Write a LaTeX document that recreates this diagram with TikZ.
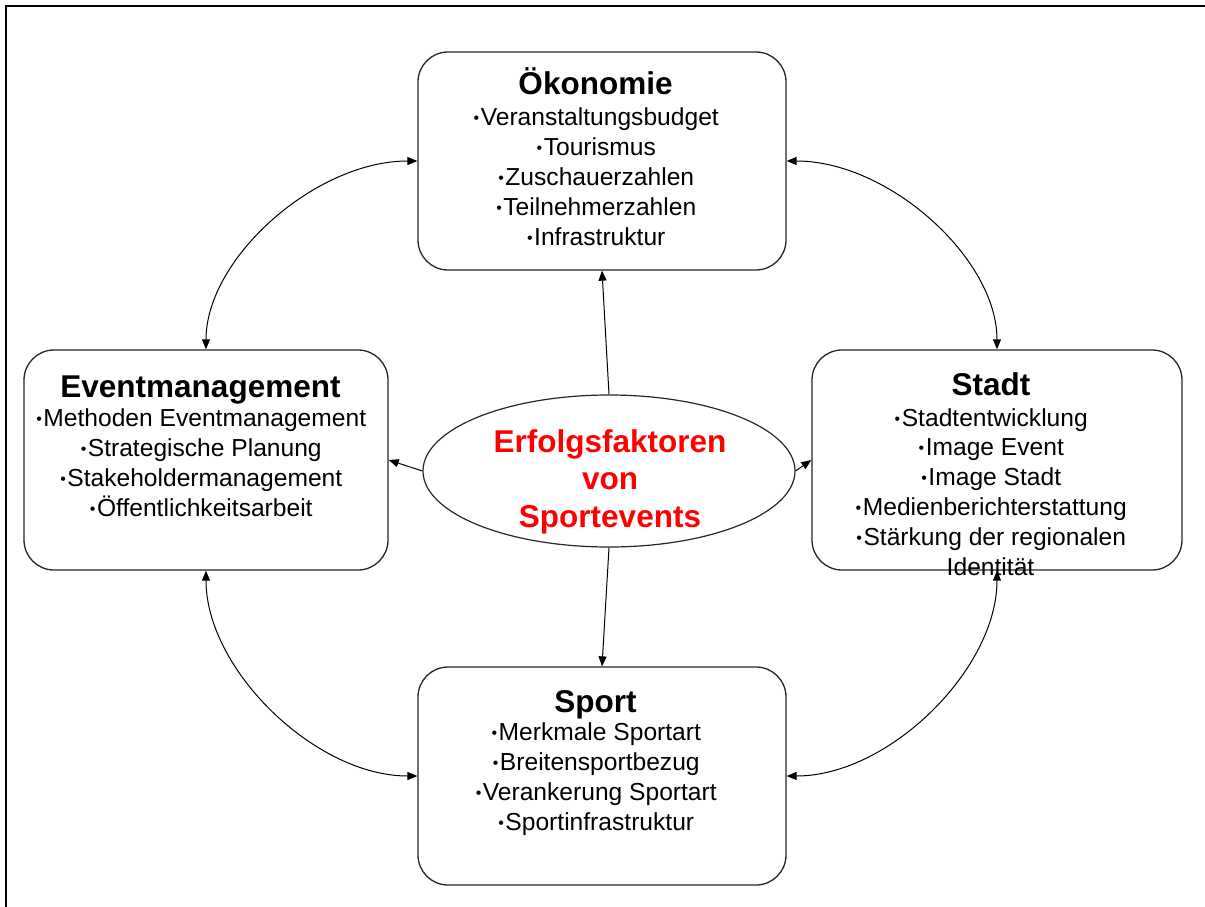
\documentclass[tikz,border=0pt]{standalone}
\usepackage{graphicx}
\usepackage{fontspec}
\setmainfont{Liberation Sans}
\usetikzlibrary{arrows.meta,shapes.geometric}
\newcommand{\mybul}{\makebox[0.35em][c]{\raisebox{0.08em}{\scalebox{0.65}{•}}}}
\tikzset{
  box/.style={draw=black!85, line width=1.3pt, rounded corners=30pt, rectangle, inner sep=0pt},
  ttl/.style={anchor=base, inner sep=0pt, font=\fontsize{31.5}{37.5}\selectfont\bfseries},
  items/.style={anchor=base, inner sep=0pt, align=center, font=\fontsize{24.6}{29.8}\selectfont},
  conn/.style={line width=1pt, -{Triangle[length=10pt,width=8pt]}},
  dconn/.style={line width=1pt, {Triangle[length=10pt,width=8pt]}-{Triangle[length=10pt,width=8pt]}},
}
\begin{document}
\begin{tikzpicture}[x=1pt,y=-1pt]
\useasboundingbox (0,0) rectangle (1205,907);
% frame
\draw[line width=2pt] (6,907) -- (6,6) -- (1205,6);

% boxes
\node[box, minimum width=368pt, minimum height=218pt] (oek) at (602,161) {};
\node[box, minimum width=364pt, minimum height=220pt] (evt) at (206,460) {};
\node[box, minimum width=370pt, minimum height=220pt] (std) at (997,460) {};
\node[box, minimum width=368pt, minimum height=218pt] (spt) at (602,776) {};
\node[draw=black!85, line width=1.2pt, ellipse, inner sep=0pt, minimum width=372pt, minimum height=152pt] (ell) at (609,471) {};

% texts (items anchored at the baseline of their last line)
\node[ttl] (oekT) at (595.5,95) {Ökonomie};
\node[items] (oekI) at (595.5,245) {\mybul Veranstaltungsbudget\\\mybul Tourismus\\\mybul Zuschauerzahlen\\\mybul Teilnehmerzahlen\\\mybul Infrastruktur};

\node[ttl] (evtT) at (200.5,397) {Eventmanagement};
\node[items] (evtI) at (200.5,516) {\mybul Methoden Eventmanagement\\\mybul Strategische Planung\\\mybul Stakeholdermanagement\\\mybul Öffentlichkeitsarbeit};

\node[ttl] (stdT) at (991,395) {Stadt};
\node[items] (stdI) at (990.5,575) {\mybul Stadtentwicklung\\\mybul Image Event\\\mybul Image Stadt\\\mybul Medienberichterstattung\\\mybul Stärkung der regionalen\\Identität};

\node[ttl] (sptT) at (595.5,712) {Sport};
\node[items] (sptI) at (595.5,830) {\mybul Merkmale Sportart\\\mybul Breitensportbezug\\\mybul Verankerung Sportart\\\mybul Sportinfrastruktur};

\node[anchor=base, inner sep=0pt, align=center, text=red, font=\fontsize{31.5}{37.5}\selectfont\bfseries] (ellT) at (610,527) {Erfolgsfaktoren\\von\\Sportevents};

% straight connectors
\draw[conn] (ell.north) -- (oek.south);
\draw[conn] (ell.west) -- (evt.east);
\draw[conn] (ell.east) -- (std.west);
\draw[conn] (ell.south) -- (spt.north);

% curved connectors
\draw[dconn] (oek.west) .. controls +(-102,0) and +(0,-91) .. (evt.north);
\draw[dconn] (oek.east) .. controls +(102,0) and +(0,-91) .. (std.north);
\draw[dconn] (evt.south) .. controls +(0,99) and +(-102,0) .. (spt.west);
\draw[dconn] (std.south) .. controls +(0,99) and +(102,0) .. (spt.east);
\end{tikzpicture}
\end{document}
